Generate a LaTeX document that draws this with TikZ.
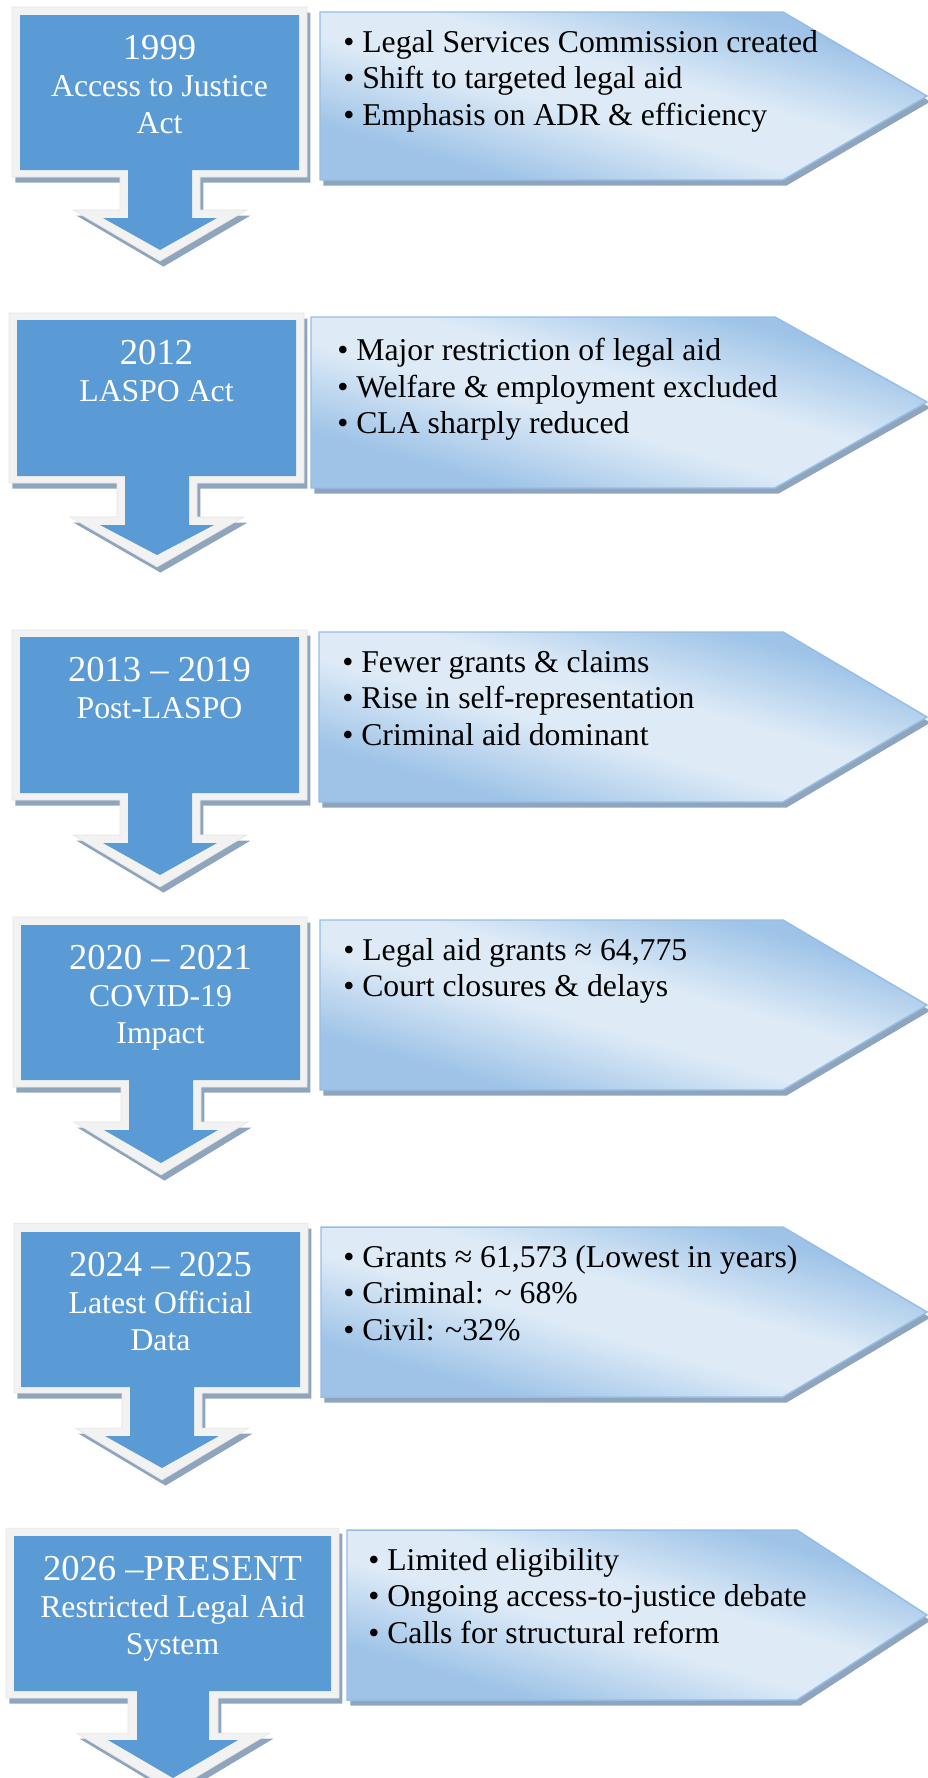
\documentclass[tikz,border=0pt]{standalone}
\usepackage{fontspec}
\setmainfont{Liberation Serif}
\usetikzlibrary{positioning,calc,shadows}
\definecolor{chevdark}{RGB}{158,195,231}
\definecolor{chevlight}{RGB}{222,235,247}
\pgfdeclareverticalshading{infoshade}{100bp}{color(0bp)=(chevdark); color(29bp)=(chevdark); color(45bp)=(chevlight); color(55bp)=(chevlight); color(71bp)=(chevdark); color(100bp)=(chevdark)}

\begin{document}
\begin{tikzpicture}[x=0.75pt,y=-0.75pt,
  stageshadow/.style={drop shadow={shadow xshift=2.6pt,shadow yshift=-4.2pt,fill=shadowgray,opacity=1}},
  stageframe/.style={fill=framegray,draw=frameedge,line width=.4pt,stageshadow},
  stagebox/.style={fill=stageblue},
  infoarrow/.style={draw=chevedge,line width=1.1pt,shading=infoshade,shading angle=-16,stageshadow},
  stagetitle/.style={anchor=north,align=center,inner sep=0pt,text=white,font=\fontsize{23.8}{27.6}\selectfont},
  stagenote/.style={anchor=north west,align=left,inner sep=0pt,font=\fontsize{23.8}{27.4}\selectfont}]
\definecolor{stageblue}{RGB}{91,155,213}
\definecolor{framegray}{RGB}{242,242,242}
\definecolor{frameedge}{RGB}{228,228,228}
\definecolor{shadowgray}{RGB}{143,165,189}
\definecolor{chevedge}{RGB}{150,190,228}
\fill[white] (0,0) rectangle (928,1778);
\useasboundingbox (0,0) rectangle (928,1778);
% 1999
\path[stageframe] (12,7) -| (307,177) -| (200,210) -- (247,210) -- (160,261) -- (73,210) -- (120,210) |- (12,177) -- cycle;
\path[stagebox] (20,15) -| (299,170) -| (192,218) -- (217,218) -- (160,250) -- (103,218) -- (128,218) |- (20,170) -- cycle;
\path[infoarrow] (320,12) -- (783,12) -- (927,96) -- (783,180) -- (320,180) -- cycle;
\node[stagetitle] (s1) at (159.5,35) {{\fontsize{27.4}{27.6}\selectfont 1999}\\Access to Justice\\Act};
\node[stagenote] (n1) at (343,30) {• Legal Services Commission created\\• Shift to targeted legal aid\\• Emphasis on ADR \& efficiency};
% 2012
\path[stageframe] (9,313) -| (304,483) -| (197,517) -- (244,517) -- (157,567) -- (70,517) -- (117,517) |- (9,483) -- cycle;
\path[stagebox] (17,320) -| (296,476) -| (189,525) -- (214,525) -- (157,555) -- (100,525) -- (125,525) |- (17,476) -- cycle;
\path[infoarrow] (311,317) -- (775,317) -- (927,402) -- (775,488) -- (311,488) -- cycle;
\node[stagetitle] (s2) at (156.5,340) {{\fontsize{27.4}{27.6}\selectfont 2012}\\LASPO Act};
\node[stagenote] (n2) at (337,338) {• Major restriction of legal aid\\• Welfare \& employment excluded\\• CLA sharply reduced};
% 2013 - 2019
\path[stageframe] (12,630) -| (307,800) -| (200,835) -- (247,835) -- (160,887) -- (73,835) -- (120,835) |- (12,800) -- cycle;
\path[stagebox] (20,637) -| (299,793) -| (192,843) -- (217,843) -- (160,875) -- (103,843) -- (128,843) |- (20,793) -- cycle;
\path[infoarrow] (319,632) -- (783,632) -- (927,717) -- (783,802) -- (319,802) -- cycle;
\node[stagetitle] (s3) at (159.5,657) {{\fontsize{27.4}{27.6}\selectfont 2013 – 2019}\\Post-LASPO};
\node[stagenote] (n3) at (342,650) {• Fewer grants \& claims\\• Rise in self-representation\\• Criminal aid dominant};
% 2020 - 2021
\path[stageframe] (13,917) -| (307,1087) -| (201,1122) -- (248,1122) -- (161,1175) -- (74,1122) -- (121,1122) |- (13,1087) -- cycle;
\path[stagebox] (21,925) -| (300,1080) -| (193,1130) -- (218,1130) -- (161,1163) -- (104,1130) -- (129,1130) |- (21,1080) -- cycle;
\path[infoarrow] (320,920) -- (783,920) -- (927,1005) -- (783,1090) -- (320,1090) -- cycle;
\node[stagetitle] (s4) at (160.5,945) {{\fontsize{27.4}{27.6}\selectfont 2020 – 2021}\\COVID-19\\Impact};
\node[stagenote] (n4) at (343,938) {• Legal aid grants ≈ 64,775\\• Court closures \& delays};
% 2024 - 2025
\path[stageframe] (14,1223) -| (308,1393) -| (202,1428) -- (249,1428) -- (162,1480) -- (75,1428) -- (122,1428) |- (14,1393) -- cycle;
\path[stagebox] (21,1232) -| (300,1387) -| (194,1436) -- (219,1436) -- (162,1468) -- (105,1436) -- (130,1436) |- (21,1387) -- cycle;
\path[infoarrow] (321,1227) -- (783,1227) -- (927,1312) -- (783,1397) -- (321,1397) -- cycle;
\node[stagetitle] (s5) at (160.5,1252) {{\fontsize{27.4}{27.6}\selectfont 2024 – 2025}\\Latest Official\\Data};
\node[stagenote] (n5) at (343,1245) {• Grants ≈ 61,573 (Lowest in years)\\• Criminal: \textasciitilde{} 68\%\\• Civil: \textasciitilde32\%};
% 2026 - present
\path[stageframe] (6,1528) -| (339,1698) -| (218,1733) -- (270,1733) -- (173,1791) -- (76,1733) -- (128,1733) |- (6,1698) -- cycle;
\path[stagebox] (14,1536) -| (331,1691) -| (209,1740) -- (238,1740) -- (173,1778) -- (108,1740) -- (137,1740) |- (14,1691) -- cycle;
\path[infoarrow] (347,1530) -- (797,1530) -- (927,1615) -- (797,1700) -- (347,1700) -- cycle;
\node[stagetitle] (s6) at (172.5,1556) {{\fontsize{27.4}{27.6}\selectfont 2026 –PRESENT}\\Restricted Legal Aid\\System};
\node[stagenote] (n6) at (368,1548) {• Limited eligibility\\• Ongoing access-to-justice debate\\• Calls for structural reform};
\end{tikzpicture}
\end{document}
